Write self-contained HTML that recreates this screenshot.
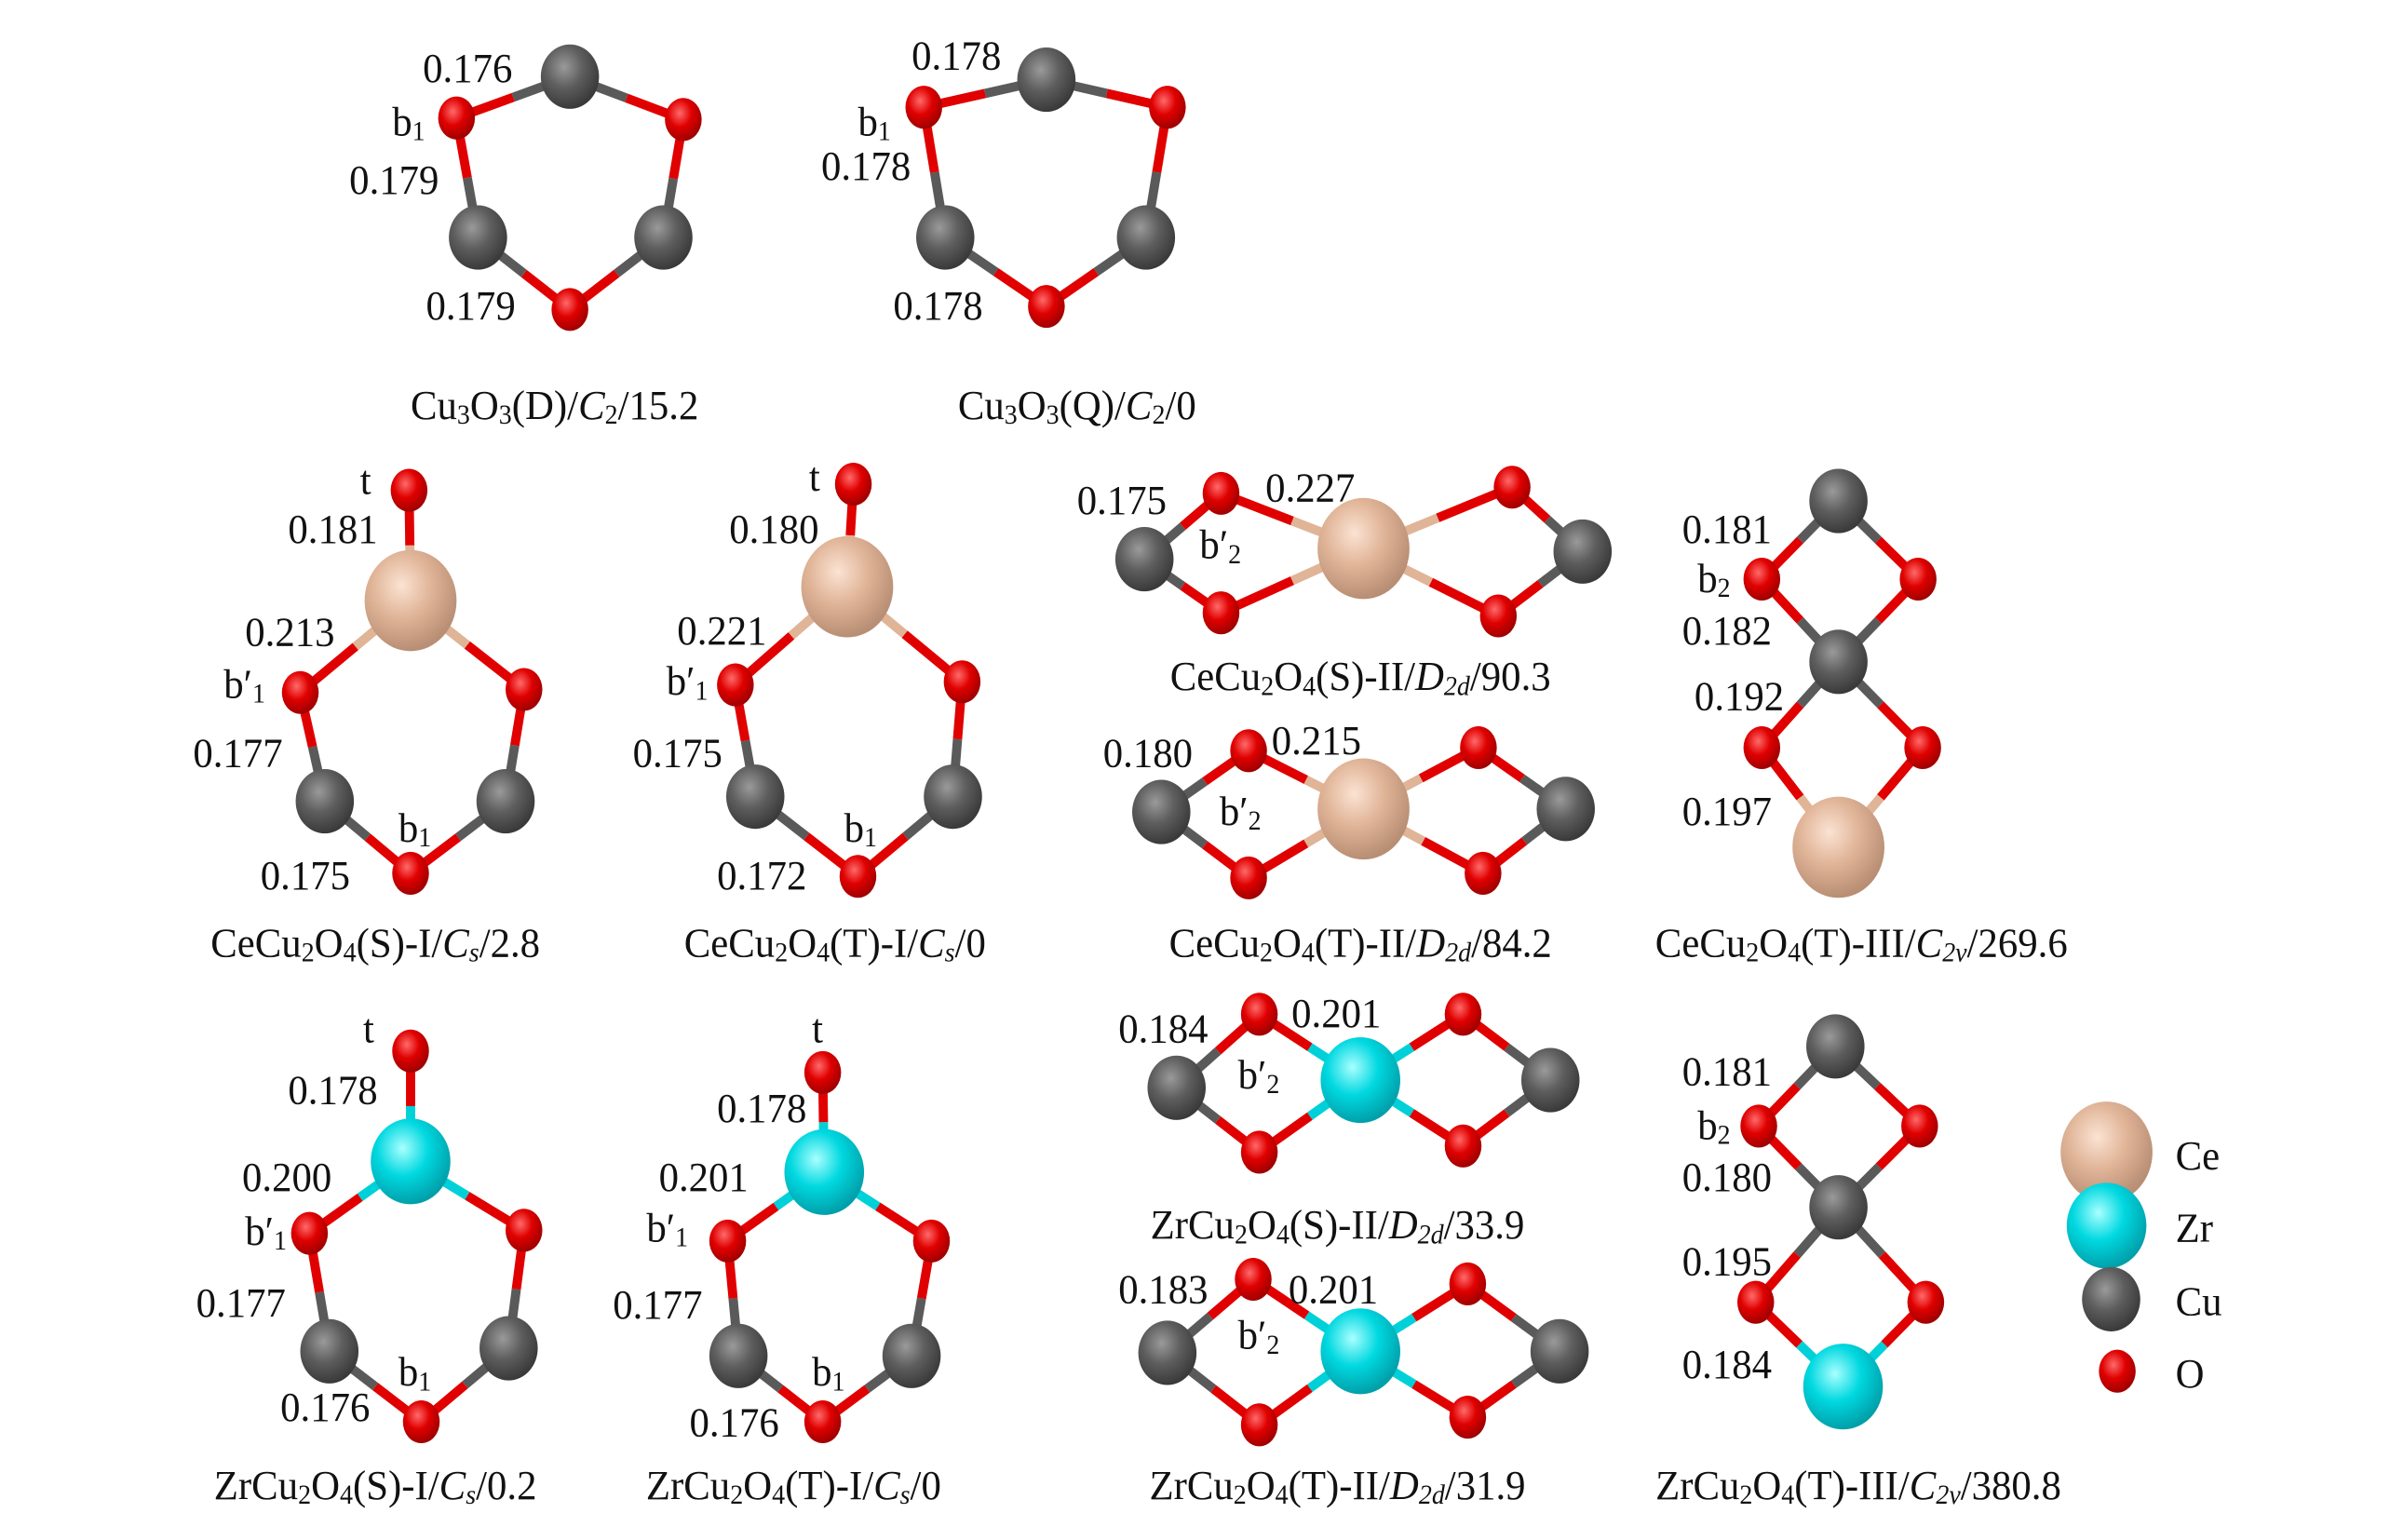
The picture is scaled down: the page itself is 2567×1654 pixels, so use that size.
<!DOCTYPE html>
<html><head><meta charset="utf-8">
<style>
html,body{margin:0;padding:0;background:#fff;overflow:hidden}
#wrap{position:absolute;left:0;top:0;width:1560px;height:1005px;transform:scale(1.6455);transform-origin:0 0}
svg{position:absolute;left:0;top:0}
.t{position:absolute;font-family:"Liberation Serif",serif;font-size:26px;line-height:1;color:#111;white-space:nowrap;transform:translateY(-50%) scaleY(1.05)}
.c{transform:translate(-50%,-50%) scaleY(1.05)}
sub{font-size:17px;vertical-align:-3px;line-height:0}
i{font-style:italic}
</style></head><body>
<div id="wrap">
<svg id="s" width="1560" height="1005" viewBox="0 0 1560 1005">
<defs>
<radialGradient id="gCu" cx="40%" cy="35%" r="65%"><stop offset="0" stop-color="#9a9a9a"/><stop offset="0.5" stop-color="#5e5e5e"/><stop offset="1" stop-color="#3a3a3a"/></radialGradient>
<radialGradient id="gO" cx="40%" cy="35%" r="65%"><stop offset="0" stop-color="#ff6a6a"/><stop offset="0.5" stop-color="#e00000"/><stop offset="1" stop-color="#a00000"/></radialGradient>
<radialGradient id="gCe" cx="40%" cy="35%" r="65%"><stop offset="0" stop-color="#fbe3d3"/><stop offset="0.5" stop-color="#e0b497"/><stop offset="1" stop-color="#b88e74"/></radialGradient>
<radialGradient id="gZr" cx="40%" cy="35%" r="65%"><stop offset="0" stop-color="#aaffff"/><stop offset="0.5" stop-color="#00d8e0"/><stop offset="1" stop-color="#00a0aa"/></radialGradient>
</defs>
</svg>
<div id="txt"></div>
</div>
<script>
var C={Cu:"#5a5a5a",O:"#e00000",Ce:"#e0b497",Zr:"#00d0d8"};
var R={Cu:[19,21],O:[12,14],Ce:[30,33],Zr:[26,28]};
var mols=[
 {a:[["O",298,77],["Cu",372,50],["O",446,78],["Cu",433,155],["O",372,202],["Cu",312,155]],b:[[0,1],[1,2],[2,3],[3,4],[4,5],[5,0]]},
 {a:[["O",603,70],["Cu",683,52],["O",762,70],["Cu",748,155],["O",683,200],["Cu",617,155]],b:[[0,1],[1,2],[2,3],[3,4],[4,5],[5,0]]},
 {a:[["O",267,320],["Ce",268,392],["O",196,452],["O",342,450],["Cu",212,523],["Cu",330,523],["O",268,570]],b:[[0,1],[1,2],[1,3],[2,4],[3,5],[4,6],[5,6]]},
 {a:[["O",557,316],["Ce",553,383],["O",480,447],["O",628,445],["Cu",493,520],["Cu",622,520],["O",560,572]],b:[[0,1],[1,2],[1,3],[2,4],[3,5],[4,6],[5,6]]},
 {a:[["Cu",747,365],["O",797,322],["O",797,400],["Ce",890,358],["O",987,318],["O",978,402],["Cu",1033,360]],b:[[0,1],[0,2],[1,3],[2,3],[3,4],[3,5],[4,6],[5,6]]},
 {a:[["Cu",758,530],["O",815,490],["O",815,573],["Ce",890,528],["O",965,488],["O",968,570],["Cu",1022,528]],b:[[0,1],[0,2],[1,3],[2,3],[3,4],[3,5],[4,6],[5,6]]},
 {a:[["Cu",1200,327],["O",1150,378],["O",1252,378],["Cu",1200,432],["O",1150,488],["O",1255,488],["Ce",1200,553]],b:[[0,1],[0,2],[1,3],[2,3],[3,4],[3,5],[4,6],[5,6]]},
 {a:[["O",268,686],["Zr",268,758],["O",202,805],["O",342,803],["Cu",215,882],["Cu",332,880],["O",275,928]],b:[[0,1],[1,2],[1,3],[2,4],[3,5],[4,6],[5,6]]},
 {a:[["O",537,700],["Zr",538,765],["O",475,810],["O",608,810],["Cu",482,885],["Cu",595,885],["O",537,928]],b:[[0,1],[1,2],[1,3],[2,4],[3,5],[4,6],[5,6]]},
 {a:[["Cu",768,710],["O",822,662],["O",822,752],["Zr",888,705],["O",955,662],["O",955,748],["Cu",1012,705]],b:[[0,1],[0,2],[1,3],[2,3],[3,4],[3,5],[4,6],[5,6]]},
 {a:[["Cu",762,883],["O",818,835],["O",822,930],["Zr",888,882],["O",958,838],["O",958,925],["Cu",1018,882]],b:[[0,1],[0,2],[1,3],[2,3],[3,4],[3,5],[4,6],[5,6]]},
 {a:[["Cu",1198,683],["O",1148,735],["O",1253,735],["Cu",1200,788],["O",1146,850],["O",1257,850],["Zr",1203,905]],b:[[0,1],[0,2],[1,3],[2,3],[3,4],[3,5],[4,6],[5,6]]},
 {a:[["Ce",1375,752],["Zr",1375,800],["Cu",1378,848],["O",1382,895]],b:[]}
];
var s=document.getElementById("s"),h="";
mols.forEach(function(m){
 m.b.forEach(function(b){var A=m.a[b[0]],B=m.a[b[1]],mx=(A[1]+B[1])/2,my=(A[2]+B[2])/2;
  h+='<line x1="'+A[1]+'" y1="'+A[2]+'" x2="'+mx+'" y2="'+my+'" stroke="'+C[A[0]]+'" stroke-width="6"/>';
  h+='<line x1="'+mx+'" y1="'+my+'" x2="'+B[1]+'" y2="'+B[2]+'" stroke="'+C[B[0]]+'" stroke-width="6"/>';});
});
mols.forEach(function(m){m.a.forEach(function(A){var r=R[A[0]];
 h+='<ellipse cx="'+A[1]+'" cy="'+A[2]+'" rx="'+r[0]+'" ry="'+r[1]+'" fill="url(#g'+A[0]+')"/>';});});
s.insertAdjacentHTML("beforeend",h);
var P="b&#8242;",L=[
[276,45,"0.176"],[256,80,"b<sub>1</sub>"],[228,118,"0.179"],[278,200,"0.179"],
[595,37,"0.178"],[560,80,"b<sub>1</sub>"],[536,109,"0.178"],[583,200,"0.178"],
[235,314,"t"],[188,346,"0.181"],[160,413,"0.213"],[146,447,P+"<sub>1</sub>"],[126,492,"0.177"],[260,541,"b<sub>1</sub>"],[170,572,"0.175"],
[528,312,"t"],[476,346,"0.180"],[442,412,"0.221"],[435,445,P+"<sub>1</sub>"],[413,492,"0.175"],[551,541,"b<sub>1</sub>"],[468,572,"0.172"],
[703,327,"0.175"],[826,319,"0.227"],[783,356,P+"<sub>2</sub>"],
[720,492,"0.180"],[830,484,"0.215"],[796,530,P+"<sub>2</sub>"],
[1098,346,"0.181"],[1108,378,"b<sub>2</sub>"],[1098,412,"0.182"],[1106,455,"0.192"],[1098,530,"0.197"],
[237,672,"t"],[188,712,"0.178"],[158,769,"0.200"],[160,804,P+"<sub>1</sub>"],[128,851,"0.177"],[260,896,"b<sub>1</sub>"],[183,919,"0.176"],
[530,672,"t"],[468,724,"0.178"],[430,769,"0.201"],[422,802,P+"<sub>1</sub>"],[400,852,"0.177"],[530,896,"b<sub>1</sub>"],[450,929,"0.176"],
[730,672,"0.184"],[843,662,"0.201"],[808,702,P+"<sub>2</sub>"],
[730,842,"0.183"],[841,842,"0.201"],[808,872,P+"<sub>2</sub>"],
[1098,700,"0.181"],[1108,735,"b<sub>2</sub>"],[1098,769,"0.180"],[1098,824,"0.195"],[1098,891,"0.184"],
[1420,755,"Ce"],[1420,802,"Zr"],[1420,850,"Cu"],[1420,897,"O"]
];
var CA=[
[362,265,"Cu<sub>3</sub>O<sub>3</sub>(D)/<i>C</i><sub>2</sub>/15.2"],
[703,265,"Cu<sub>3</sub>O<sub>3</sub>(Q)/<i>C</i><sub>2</sub>/0"],
[245,616,"CeCu<sub>2</sub>O<sub>4</sub>(S)-I/<i>C<sub>s</sub></i>/2.8"],
[545,616,"CeCu<sub>2</sub>O<sub>4</sub>(T)-I/<i>C<sub>s</sub></i>/0"],
[888,442,"CeCu<sub>2</sub>O<sub>4</sub>(S)-II/<i>D</i><sub><i>2d</i></sub>/90.3"],
[888,616,"CeCu<sub>2</sub>O<sub>4</sub>(T)-II/<i>D</i><sub><i>2d</i></sub>/84.2"],
[1215,616,"CeCu<sub>2</sub>O<sub>4</sub>(T)-III/<i>C</i><sub><i>2v</i></sub>/269.6"],
[245,970,"ZrCu<sub>2</sub>O<sub>4</sub>(S)-I/<i>C<sub>s</sub></i>/0.2"],
[518,970,"ZrCu<sub>2</sub>O<sub>4</sub>(T)-I/<i>C<sub>s</sub></i>/0"],
[873,800,"ZrCu<sub>2</sub>O<sub>4</sub>(S)-II/<i>D</i><sub><i>2d</i></sub>/33.9"],
[873,970,"ZrCu<sub>2</sub>O<sub>4</sub>(T)-II/<i>D</i><sub><i>2d</i></sub>/31.9"],
[1213,970,"ZrCu<sub>2</sub>O<sub>4</sub>(T)-III/<i>C</i><sub><i>2v</i></sub>/380.8"]
];
var t="";
L.forEach(function(l){t+='<div class="t" style="left:'+l[0]+'px;top:'+l[1]+'px">'+l[2]+'</div>';});
CA.forEach(function(l){t+='<div class="t c" style="left:'+l[0]+'px;top:'+l[1]+'px">'+l[2]+'</div>';});
document.getElementById("txt").innerHTML=t;
</script>
</body></html>
